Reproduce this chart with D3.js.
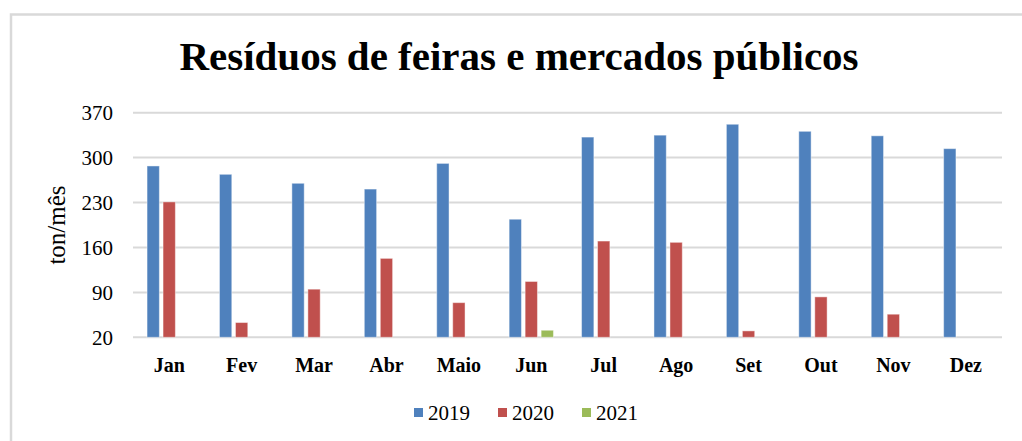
<!DOCTYPE html>
<html>
<head>
<meta charset="utf-8">
<script src="https://cdn.jsdelivr.net/npm/d3@7"></script>
<style>
  html, body { margin: 0; padding: 0; background: #fff; }
  svg { display: block; }
</style>
</head>
<body>
<script>
const months = ["Jan", "Fev", "Mar", "Abr", "Maio", "Jun", "Jul", "Ago", "Set", "Out", "Nov", "Dez"];
const seriesNames = ["2019", "2020", "2021"];
const values2019 = [287, 274, 260, 251, 291, 204, 332, 335, 352, 341, 334, 314];
const values2020 = [231, 43, 95, 143, 74, 107, 170, 168, 30, 83, 56, null];
const values2021 = [null, null, null, null, null, 31, null, null, null, null, null, null];
const yTicks = [20, 90, 160, 230, 300, 370];
const colors = ["#4F81BD", "#C0504D", "#9BBB59"];
const titleText = "Resíduos de feiras e mercados públicos";
const yLabel = "ton/mês";

const FONT = '"Liberation Serif", "Times New Roman", serif';
const W = 1022, H = 441;
const svg = d3.select("body").append("svg").attr("width", W).attr("height", H)
  .style("font-family", FONT);

// outer frame
svg.append("path")
  .attr("d", `M11,${H + 5} V14.5 H${W + 5}`)
  .attr("fill", "none").attr("stroke", "#d9d9d9").attr("stroke-width", 2.5);

const plot = { left: 133, right: 1002, top: 112.7, bottom: 337.3 };

const x0 = d3.scaleBand().domain(months).range([plot.left, plot.right]).padding(0);
const groupW = x0.bandwidth() * 0.612;
const x1 = d3.scaleBand().domain(seriesNames).range([-groupW / 2, groupW / 2]).paddingInner(0.23).paddingOuter(0);
const y = d3.scaleLinear().domain([20, 370]).range([plot.bottom, plot.top]);

// gridlines
svg.append("g").selectAll("line").data(yTicks).join("line")
  .attr("x1", plot.left).attr("x2", plot.right)
  .attr("y1", d => y(d)).attr("y2", d => y(d))
  .attr("stroke", "#d9d9d9").attr("stroke-width", 2);

// y axis labels
const yAxis = d3.axisLeft(y).tickValues(yTicks).tickSize(0).tickPadding(0);
const gy = svg.append("g").attr("transform", `translate(${plot.left - 20},0)`).call(yAxis)
  .attr("font-family", FONT).attr("font-size", 21);
gy.select(".domain").remove();
gy.selectAll("text").attr("fill", "#000");

// x axis labels
const xAxis = d3.axisBottom(x0).tickSize(0).tickPadding(0);
const gx = svg.append("g").attr("transform", `translate(0,${plot.bottom + 20})`).call(xAxis)
  .attr("font-family", FONT).attr("font-size", 20).attr("font-weight", "bold");
gx.select(".domain").remove();
gx.selectAll("text").attr("fill", "#000");

// bars
const allSeries = [values2019, values2020, values2021];
const rows = [];
months.forEach((m, i) => {
  seriesNames.forEach((s, j) => {
    const v = allSeries[j][i];
    if (v != null) rows.push({ month: m, series: s, value: v, color: colors[j] });
  });
});
svg.append("g").selectAll("rect").data(rows).join("rect")
  .attr("x", d => x0(d.month) + x0.bandwidth() / 2 + x1(d.series))
  .attr("width", x1.bandwidth())
  .attr("y", d => y(d.value))
  .attr("height", d => y(20) - y(d.value))
  .attr("fill", d => d.color)
  .attr("stroke", "#ffffff").attr("stroke-opacity", 0.45).attr("stroke-width", 1);

// title
svg.append("text").attr("x", 519).attr("y", 70).attr("text-anchor", "middle")
  .attr("font-family", FONT).attr("font-size", 41).attr("font-weight", "bold")
  .attr("fill", "#000").text(titleText);

// y label
svg.append("text").attr("transform", "translate(65,225) rotate(-90)")
  .attr("text-anchor", "middle").attr("font-family", FONT).attr("font-size", 25)
  .attr("fill", "#000").text(yLabel);

// legend
const legendX = [414, 498, 582];
const lg = svg.append("g").selectAll("g").data(seriesNames).join("g")
  .attr("transform", (d, i) => `translate(${legendX[i]},0)`);
lg.append("rect").attr("x", 0).attr("y", 408).attr("width", 9).attr("height", 9)
  .attr("fill", (d, i) => colors[i]);
lg.append("text").attr("x", 14).attr("y", 420).attr("font-family", FONT).attr("font-size", 21)
  .attr("fill", "#000").text(d => d);
</script>
</body>
</html>
